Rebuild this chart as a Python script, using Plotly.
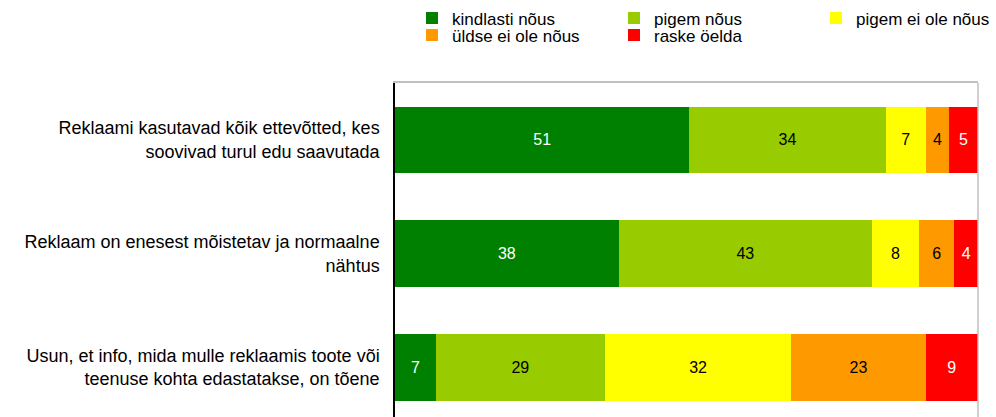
import plotly.graph_objects as go

categories = [
    "Reklaami kasutavad kõik ettevõtted, kes<br>soovivad turul edu saavutada",
    "Reklaam on enesest mõistetav ja normaalne<br>nähtus",
    "Usun, et info, mida mulle reklaamis toote või<br>teenuse kohta edastatakse, on tõene",
]
series_names = ["kindlasti nõus", "pigem nõus", "pigem ei ole nõus", "üldse ei ole nõus", "raske öelda"]
kindlasti = [51, 38, 7]
pigem = [34, 43, 29]
pigem_ei = [7, 8, 32]
uldse_ei = [4, 6, 23]
raske = [5, 4, 9]
values = [kindlasti, pigem, pigem_ei, uldse_ei, raske]

colors = ["#008000", "#99CC00", "#FFFF00", "#FF9900", "#FF0000"]
text_colors = ["white", "black", "black", "black", "white"]
legend_ids = ["legend", "legend2", "legend3", "legend4", "legend5"]

W, H = 996, 417
L, R, T, B = 395, 18, 83, 0
pw, ph = W - L - R, H - T - B

def px_x(px):
    return (px - L) / pw

def px_y(py):
    return (H - B - py) / ph

FONT = "Liberation Sans, Arial, sans-serif"

fig = go.Figure()
for name, vals, col, tcol, lg in zip(series_names, values, colors, text_colors, legend_ids):
    fig.add_trace(go.Bar(
        y=categories, x=vals, name=name, orientation="h",
        marker=dict(color=col, line=dict(width=0)),
        text=vals, texttemplate="%{text}", textposition="inside",
        insidetextanchor="middle", textangle=0, constraintext="none",
        textfont=dict(color=tcol, size=16, family=FONT),
        legend=lg, hoverinfo="skip",
    ))

# legend positions (left x, row centre y) in pixels
leg_pos = [(412, 18.5), (614, 18.5), (816, 18.5), (412, 35.5), (614, 35.5)]
leg_layout = {}
for lg, (lx, ly) in zip(legend_ids, leg_pos):
    leg_layout[lg] = dict(
        x=px_x(lx), y=px_y(ly), xanchor="left", yanchor="middle",
        bgcolor="rgba(0,0,0,0)", borderwidth=0,
        font=dict(size=17, family=FONT, color="black"),
        orientation="v",
    )

fig.update_layout(
    width=W, height=H,
    margin=dict(l=L, r=R, t=T, b=B, pad=0, autoexpand=False),
    barmode="stack", barnorm="percent", bargap=0.415,
    plot_bgcolor="white", paper_bgcolor="white",
    font=dict(family=FONT, size=17, color="black"),
    showlegend=True,
    **leg_layout,
)
fig.update_xaxes(range=[0, 100], showgrid=False, zeroline=False, showticklabels=False,
                 showline=True, linecolor="#C0C0C0", linewidth=1.5, mirror=True, ticks="",
                 automargin=False)
fig.update_yaxes(type="category", range=[2.436, -0.5], showgrid=False, zeroline=False,
                 showline=True, linecolor="black", linewidth=1.5, ticks="",
                 ticklabelstandoff=10, automargin=False,
                 tickfont=dict(size=18, family=FONT, color="black"))
fig.add_shape(type="line", xref="paper", yref="paper", x0=1, x1=1, y0=0, y1=1,
              line=dict(color="#C0C0C0", width=1.5))

fig.write_html(
    "out.html",
    config={"displayModeBar": False},
    post_script="document.body.style.margin='0';document.body.style.padding='0';",
)
